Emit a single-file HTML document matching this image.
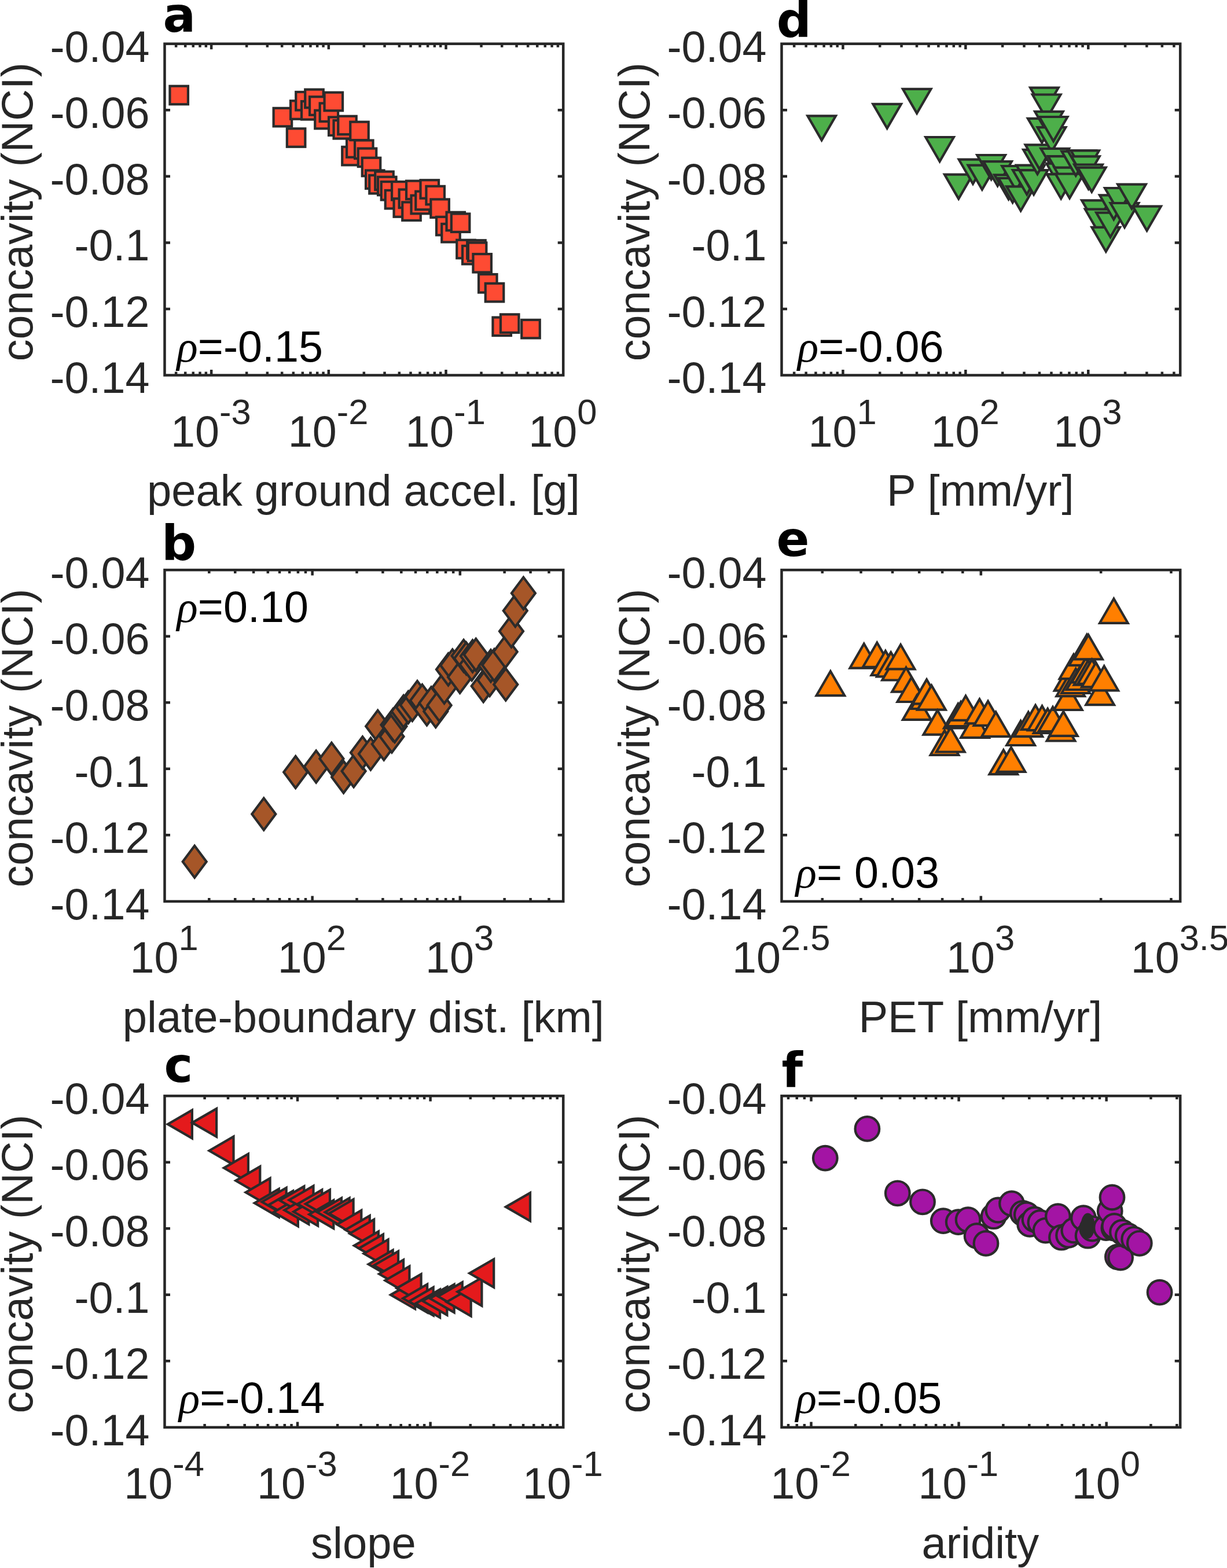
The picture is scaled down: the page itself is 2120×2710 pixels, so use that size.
<!DOCTYPE html>
<html><head><meta charset="utf-8"><title>figure</title>
<style>html,body{margin:0;padding:0;background:#fff;overflow:hidden;}svg{display:block;}text{font-family:"Liberation Sans",Arial,sans-serif;}.tk{font-size:75.5px;fill:#262626;}.sp{font-size:61.5px;}.pl{font-family:"DejaVu Sans",sans-serif;font-weight:bold;font-size:84px;fill:#000;}.rh{font-size:75.5px;fill:#000;}.rs{font-family:"Liberation Serif",serif;font-style:italic;}</style></head><body>
<svg width="2120" height="2710" viewBox="0 0 2120 2710">
<rect width="2120" height="2710" fill="#fff"/>
<g stroke="#2b2b2b" stroke-width="4.2" stroke-linejoin="miter" stroke-miterlimit="10">
<rect x="293.45" y="148.75" width="31.5" height="31.5" fill="#FE4B33"/>
<rect x="472.65" y="186.85" width="31.5" height="31.5" fill="#FE4B33"/>
<rect x="495.85" y="222.25" width="31.5" height="31.5" fill="#FE4B33"/>
<rect x="502.05" y="174.25" width="31.5" height="31.5" fill="#FE4B33"/>
<rect x="511.25" y="158.95" width="31.5" height="31.5" fill="#FE4B33"/>
<rect x="521.05" y="175.05" width="31.5" height="31.5" fill="#FE4B33"/>
<rect x="527.25" y="154.65" width="31.5" height="31.5" fill="#FE4B33"/>
<rect x="535.05" y="167.25" width="31.5" height="31.5" fill="#FE4B33"/>
<rect x="544.25" y="190.75" width="31.5" height="31.5" fill="#FE4B33"/>
<rect x="552.65" y="178.45" width="31.5" height="31.5" fill="#FE4B33"/>
<rect x="560.55" y="159.75" width="31.5" height="31.5" fill="#FE4B33"/>
<rect x="568.05" y="202.45" width="31.5" height="31.5" fill="#FE4B33"/>
<rect x="576.55" y="208.05" width="31.5" height="31.5" fill="#FE4B33"/>
<rect x="584.25" y="200.75" width="31.5" height="31.5" fill="#FE4B33"/>
<rect x="591.25" y="253.85" width="31.5" height="31.5" fill="#FE4B33"/>
<rect x="599.05" y="240.25" width="31.5" height="31.5" fill="#FE4B33"/>
<rect x="605.25" y="210.65" width="31.5" height="31.5" fill="#FE4B33"/>
<rect x="613.05" y="242.55" width="31.5" height="31.5" fill="#FE4B33"/>
<rect x="618.75" y="256.55" width="31.5" height="31.5" fill="#FE4B33"/>
<rect x="625.75" y="272.75" width="31.5" height="31.5" fill="#FE4B33"/>
<rect x="632.05" y="294.45" width="31.5" height="31.5" fill="#FE4B33"/>
<rect x="638.25" y="302.95" width="31.5" height="31.5" fill="#FE4B33"/>
<rect x="648.25" y="296.55" width="31.5" height="31.5" fill="#FE4B33"/>
<rect x="653.05" y="305.75" width="31.5" height="31.5" fill="#FE4B33"/>
<rect x="658.75" y="314.05" width="31.5" height="31.5" fill="#FE4B33"/>
<rect x="665.75" y="328.95" width="31.5" height="31.5" fill="#FE4B33"/>
<rect x="677.05" y="314.05" width="31.5" height="31.5" fill="#FE4B33"/>
<rect x="680.55" y="343.25" width="31.5" height="31.5" fill="#FE4B33"/>
<rect x="689.65" y="327.55" width="31.5" height="31.5" fill="#FE4B33"/>
<rect x="695.25" y="349.45" width="31.5" height="31.5" fill="#FE4B33"/>
<rect x="702.05" y="312.65" width="31.5" height="31.5" fill="#FE4B33"/>
<rect x="710.55" y="337.75" width="31.5" height="31.5" fill="#FE4B33"/>
<rect x="718.25" y="330.75" width="31.5" height="31.5" fill="#FE4B33"/>
<rect x="726.55" y="311.25" width="31.5" height="31.5" fill="#FE4B33"/>
<rect x="736.45" y="321.85" width="31.5" height="31.5" fill="#FE4B33"/>
<rect x="744.35" y="344.45" width="31.5" height="31.5" fill="#FE4B33"/>
<rect x="754.05" y="374.85" width="31.5" height="31.5" fill="#FE4B33"/>
<rect x="763.25" y="386.95" width="31.5" height="31.5" fill="#FE4B33"/>
<rect x="771.55" y="366.75" width="31.5" height="31.5" fill="#FE4B33"/>
<rect x="779.85" y="369.45" width="31.5" height="31.5" fill="#FE4B33"/>
<rect x="789.25" y="414.75" width="31.5" height="31.5" fill="#FE4B33"/>
<rect x="799.05" y="424.95" width="31.5" height="31.5" fill="#FE4B33"/>
<rect x="807.25" y="415.25" width="31.5" height="31.5" fill="#FE4B33"/>
<rect x="808.85" y="419.45" width="31.5" height="31.5" fill="#FE4B33"/>
<rect x="817.45" y="439.05" width="31.5" height="31.5" fill="#FE4B33"/>
<rect x="827.05" y="474.05" width="31.5" height="31.5" fill="#FE4B33"/>
<rect x="838.75" y="489.85" width="31.5" height="31.5" fill="#FE4B33"/>
<rect x="851.45" y="548.55" width="31.5" height="31.5" fill="#FE4B33"/>
<rect x="864.95" y="543.35" width="31.5" height="31.5" fill="#FE4B33"/>
<rect x="901.25" y="552.85" width="31.5" height="31.5" fill="#FE4B33"/>
</g>
<g stroke="#262626" stroke-width="4.5" fill="none">
<rect x="284.5" y="75.7" width="688.7" height="572.8" stroke-linejoin="miter"/>
<path d="M284.5 190.26H294M973.2 190.26H963.7M284.5 304.82H294M973.2 304.82H963.7M284.5 419.38H294M973.2 419.38H963.7M284.5 533.94H294M973.2 533.94H963.7M365.16 648.5V639M365.16 75.7V85.2M567.84 648.5V639M567.84 75.7V85.2M770.52 648.5V639M770.52 75.7V85.2M304.14 648.5V642.5M304.14 75.7V81.7M320.19 648.5V642.5M320.19 75.7V81.7M333.76 648.5V642.5M333.76 75.7V81.7M345.51 648.5V642.5M345.51 75.7V81.7M355.88 648.5V642.5M355.88 75.7V81.7M426.17 648.5V642.5M426.17 75.7V81.7M461.86 648.5V642.5M461.86 75.7V81.7M487.18 648.5V642.5M487.18 75.7V81.7M506.82 648.5V642.5M506.82 75.7V81.7M522.87 648.5V642.5M522.87 75.7V81.7M536.44 648.5V642.5M536.44 75.7V81.7M548.19 648.5V642.5M548.19 75.7V81.7M558.56 648.5V642.5M558.56 75.7V81.7M628.85 648.5V642.5M628.85 75.7V81.7M664.54 648.5V642.5M664.54 75.7V81.7M689.86 648.5V642.5M689.86 75.7V81.7M709.51 648.5V642.5M709.51 75.7V81.7M725.55 648.5V642.5M725.55 75.7V81.7M739.12 648.5V642.5M739.12 75.7V81.7M750.88 648.5V642.5M750.88 75.7V81.7M761.24 648.5V642.5M761.24 75.7V81.7M831.53 648.5V642.5M831.53 75.7V81.7M867.22 648.5V642.5M867.22 75.7V81.7M892.54 648.5V642.5M892.54 75.7V81.7M912.19 648.5V642.5M912.19 75.7V81.7M928.24 648.5V642.5M928.24 75.7V81.7M941.8 648.5V642.5M941.8 75.7V81.7M953.56 648.5V642.5M953.56 75.7V81.7M963.93 648.5V642.5M963.93 75.7V81.7"/>
</g>
<text class="tk" x="258.5" y="106.5" text-anchor="end">-0.04</text>
<text class="tk" x="258.5" y="221.06" text-anchor="end">-0.06</text>
<text class="tk" x="258.5" y="335.62" text-anchor="end">-0.08</text>
<text class="tk" x="258.5" y="450.18" text-anchor="end">-0.1</text>
<text class="tk" x="258.5" y="564.74" text-anchor="end">-0.12</text>
<text class="tk" x="258.5" y="679.3" text-anchor="end">-0.14</text>
<text class="tk" x="364.36" y="771.5" text-anchor="middle">10<tspan class="sp" dy="-38.5">-3</tspan></text>
<text class="tk" x="567.04" y="771.5" text-anchor="middle">10<tspan class="sp" dy="-38.5">-2</tspan></text>
<text class="tk" x="769.72" y="771.5" text-anchor="middle">10<tspan class="sp" dy="-38.5">-1</tspan></text>
<text class="tk" x="972.4" y="771.5" text-anchor="middle">10<tspan class="sp" dy="-38.5">0</tspan></text>
<text class="tk" style="font-size:76.0px" x="627.85" y="874.4" text-anchor="middle">peak ground accel. [g]</text>
<text class="tk" x="0" y="0" text-anchor="middle" transform="translate(56.1 366.2) rotate(-90)">concavity (NCI)</text>
<text class="pl" x="281.6" y="55.2">a</text>
<text class="rh" x="305.6" y="624.5"><tspan class="rs">ρ</tspan>=-0.15</text>
<g stroke="#2b2b2b" stroke-width="4.2" stroke-linejoin="miter" stroke-miterlimit="10">
<path d="M336.2 1461.8 L356.7 1489.3 L336.2 1516.8 L315.7 1489.3Z" fill="#A65628"/>
<path d="M455.8 1379.5 L476.3 1407 L455.8 1434.5 L435.3 1407Z" fill="#A65628"/>
<path d="M510.7 1307.1 L531.2 1334.6 L510.7 1362.1 L490.2 1334.6Z" fill="#A65628"/>
<path d="M546.2 1297.5 L566.7 1325 L546.2 1352.5 L525.7 1325Z" fill="#A65628"/>
<path d="M572.9 1283.8 L593.4 1311.3 L572.9 1338.8 L552.4 1311.3Z" fill="#A65628"/>
<path d="M593.6 1315.5 L614.1 1343 L593.6 1370.5 L573.1 1343Z" fill="#A65628"/>
<path d="M611.1 1305.3 L631.6 1332.8 L611.1 1360.3 L590.6 1332.8Z" fill="#A65628"/>
<path d="M626.4 1273.3 L646.9 1300.8 L626.4 1328.3 L605.9 1300.8Z" fill="#A65628"/>
<path d="M640.4 1275.5 L660.9 1303 L640.4 1330.5 L619.9 1303Z" fill="#A65628"/>
<path d="M652.7 1227.8 L673.2 1255.3 L652.7 1282.8 L632.2 1255.3Z" fill="#A65628"/>
<path d="M663.3 1258.5 L683.8 1286 L663.3 1313.5 L642.8 1286Z" fill="#A65628"/>
<path d="M677 1245.5 L697.5 1273 L677 1300.5 L656.5 1273Z" fill="#A65628"/>
<path d="M679 1225.2 L699.5 1252.7 L679 1280.2 L658.5 1252.7Z" fill="#A65628"/>
<path d="M682 1227.8 L702.5 1255.3 L682 1282.8 L661.5 1255.3Z" fill="#A65628"/>
<path d="M694.5 1206.5 L715 1234 L694.5 1261.5 L674 1234Z" fill="#A65628"/>
<path d="M697.2 1202 L717.7 1229.5 L697.2 1257 L676.7 1229.5Z" fill="#A65628"/>
<path d="M705.4 1195 L725.9 1222.5 L705.4 1250 L684.9 1222.5Z" fill="#A65628"/>
<path d="M712.3 1189.5 L732.8 1217 L712.3 1244.5 L691.8 1217Z" fill="#A65628"/>
<path d="M712.4 1191 L732.9 1218.5 L712.4 1246 L691.9 1218.5Z" fill="#A65628"/>
<path d="M721 1177 L741.5 1204.5 L721 1232 L700.5 1204.5Z" fill="#A65628"/>
<path d="M729.5 1183.2 L750 1210.7 L729.5 1238.2 L709 1210.7Z" fill="#A65628"/>
<path d="M737.5 1198.5 L758 1226 L737.5 1253.5 L717 1226Z" fill="#A65628"/>
<path d="M745 1187.5 L765.5 1215 L745 1242.5 L724.5 1215Z" fill="#A65628"/>
<path d="M752.8 1202 L773.3 1229.5 L752.8 1257 L732.3 1229.5Z" fill="#A65628"/>
<path d="M759.1 1191.6 L779.6 1219.1 L759.1 1246.6 L738.6 1219.1Z" fill="#A65628"/>
<path d="M767.6 1160.8 L788.1 1188.3 L767.6 1215.8 L747.1 1188.3Z" fill="#A65628"/>
<path d="M774.5 1129.5 L795 1157 L774.5 1184.5 L754 1157Z" fill="#A65628"/>
<path d="M781.8 1122.5 L802.3 1150 L781.8 1177.5 L761.3 1150Z" fill="#A65628"/>
<path d="M794.6 1142.8 L815.1 1170.3 L794.6 1197.8 L774.1 1170.3Z" fill="#A65628"/>
<path d="M801.1 1105.9 L821.6 1133.4 L801.1 1160.9 L780.6 1133.4Z" fill="#A65628"/>
<path d="M805.6 1110.5 L826.1 1138 L805.6 1165.5 L785.1 1138Z" fill="#A65628"/>
<path d="M815.2 1120.9 L835.7 1148.4 L815.2 1175.9 L794.7 1148.4Z" fill="#A65628"/>
<path d="M816.5 1106.5 L837 1134 L816.5 1161.5 L796 1134Z" fill="#A65628"/>
<path d="M822.3 1104 L842.8 1131.5 L822.3 1159 L801.8 1131.5Z" fill="#A65628"/>
<path d="M835.2 1158.2 L855.7 1185.7 L835.2 1213.2 L814.7 1185.7Z" fill="#A65628"/>
<path d="M846.1 1148 L866.6 1175.5 L846.1 1203 L825.6 1175.5Z" fill="#A65628"/>
<path d="M848 1123.3 L868.5 1150.8 L848 1178.3 L827.5 1150.8Z" fill="#A65628"/>
<path d="M853.9 1122 L874.4 1149.5 L853.9 1177 L833.4 1149.5Z" fill="#A65628"/>
<path d="M873.2 1099 L893.7 1126.5 L873.2 1154 L852.7 1126.5Z" fill="#A65628"/>
<path d="M873.8 1155.6 L894.3 1183.1 L873.8 1210.6 L853.3 1183.1Z" fill="#A65628"/>
<path d="M883.5 1063.5 L904 1091 L883.5 1118.5 L863 1091Z" fill="#A65628"/>
<path d="M890.3 1028 L910.8 1055.5 L890.3 1083 L869.8 1055.5Z" fill="#A65628"/>
<path d="M904.4 997.7 L924.9 1025.2 L904.4 1052.7 L883.9 1025.2Z" fill="#A65628"/>
</g>
<g stroke="#262626" stroke-width="4.5" fill="none">
<rect x="284.5" y="985.1" width="688.7" height="572.8" stroke-linejoin="miter"/>
<path d="M284.5 1099.66H294M973.2 1099.66H963.7M284.5 1214.22H294M973.2 1214.22H963.7M284.5 1328.78H294M973.2 1328.78H963.7M284.5 1443.34H294M973.2 1443.34H963.7M539.67 1557.9V1548.4M539.67 985.1V994.6M794.84 1557.9V1548.4M794.84 985.1V994.6M361.31 1557.9V1551.9M361.31 985.1V991.1M406.25 1557.9V1551.9M406.25 985.1V991.1M438.13 1557.9V1551.9M438.13 985.1V991.1M462.86 1557.9V1551.9M462.86 985.1V991.1M483.06 1557.9V1551.9M483.06 985.1V991.1M500.14 1557.9V1551.9M500.14 985.1V991.1M514.94 1557.9V1551.9M514.94 985.1V991.1M528 1557.9V1551.9M528 985.1V991.1M616.49 1557.9V1551.9M616.49 985.1V991.1M661.42 1557.9V1551.9M661.42 985.1V991.1M693.3 1557.9V1551.9M693.3 985.1V991.1M718.03 1557.9V1551.9M718.03 985.1V991.1M738.23 1557.9V1551.9M738.23 985.1V991.1M755.32 1557.9V1551.9M755.32 985.1V991.1M770.11 1557.9V1551.9M770.11 985.1V991.1M783.17 1557.9V1551.9M783.17 985.1V991.1M871.66 1557.9V1551.9M871.66 985.1V991.1M916.59 1557.9V1551.9M916.59 985.1V991.1M948.47 1557.9V1551.9M948.47 985.1V991.1"/>
</g>
<text class="tk" x="258.5" y="1015.9" text-anchor="end">-0.04</text>
<text class="tk" x="258.5" y="1130.46" text-anchor="end">-0.06</text>
<text class="tk" x="258.5" y="1245.02" text-anchor="end">-0.08</text>
<text class="tk" x="258.5" y="1359.58" text-anchor="end">-0.1</text>
<text class="tk" x="258.5" y="1474.14" text-anchor="end">-0.12</text>
<text class="tk" x="258.5" y="1588.7" text-anchor="end">-0.14</text>
<text class="tk" x="283.7" y="1680.9" text-anchor="middle">10<tspan class="sp" dy="-38.5">1</tspan></text>
<text class="tk" x="538.87" y="1680.9" text-anchor="middle">10<tspan class="sp" dy="-38.5">2</tspan></text>
<text class="tk" x="794.04" y="1680.9" text-anchor="middle">10<tspan class="sp" dy="-38.5">3</tspan></text>
<text class="tk" style="font-size:76.0px" x="627.85" y="1783.8" text-anchor="middle">plate-boundary dist. [km]</text>
<text class="tk" x="0" y="0" text-anchor="middle" transform="translate(56.1 1275.6) rotate(-90)">concavity (NCI)</text>
<text class="pl" x="279.1" y="967.9">b</text>
<text class="rh" x="305.6" y="1074.5"><tspan class="rs">ρ</tspan>=0.10</text>
<g stroke="#2b2b2b" stroke-width="4.2" stroke-linejoin="miter" stroke-miterlimit="10">
<path d="M289.9 1943 L331.9 1918.7 L331.9 1967.3Z" fill="#E41A1C"/>
<path d="M332.1 1940.4 L374.1 1916.1 L374.1 1964.7Z" fill="#E41A1C"/>
<path d="M361.5 1988.7 L403.5 1964.4 L403.5 2013Z" fill="#E41A1C"/>
<path d="M386.9 2018.6 L428.9 1994.3 L428.9 2042.9Z" fill="#E41A1C"/>
<path d="M407.3 2040.5 L449.3 2016.2 L449.3 2064.8Z" fill="#E41A1C"/>
<path d="M424.6 2060.7 L466.6 2036.4 L466.6 2085Z" fill="#E41A1C"/>
<path d="M439.8 2079.2 L481.8 2054.9 L481.8 2103.5Z" fill="#E41A1C"/>
<path d="M452.7 2077.3 L494.7 2053 L494.7 2101.6Z" fill="#E41A1C"/>
<path d="M464.1 2082.6 L506.1 2058.3 L506.1 2106.9Z" fill="#E41A1C"/>
<path d="M472.9 2095 L514.9 2070.7 L514.9 2119.3Z" fill="#E41A1C"/>
<path d="M483.4 2074.7 L525.4 2050.4 L525.4 2099Z" fill="#E41A1C"/>
<path d="M491.4 2091.5 L533.4 2067.2 L533.4 2115.8Z" fill="#E41A1C"/>
<path d="M499.5 2074 L541.5 2049.7 L541.5 2098.3Z" fill="#E41A1C"/>
<path d="M507.2 2094.2 L549.2 2069.9 L549.2 2118.5Z" fill="#E41A1C"/>
<path d="M514.3 2080.7 L556.3 2056.4 L556.3 2105Z" fill="#E41A1C"/>
<path d="M528 2080.7 L570 2056.4 L570 2105Z" fill="#E41A1C"/>
<path d="M534.3 2098.7 L576.3 2074.4 L576.3 2123Z" fill="#E41A1C"/>
<path d="M548 2095 L590 2070.7 L590 2119.3Z" fill="#E41A1C"/>
<path d="M561.7 2095 L603.7 2070.7 L603.7 2119.3Z" fill="#E41A1C"/>
<path d="M568.6 2097.3 L610.6 2073 L610.6 2121.6Z" fill="#E41A1C"/>
<path d="M582.3 2116.3 L624.3 2092 L624.3 2140.6Z" fill="#E41A1C"/>
<path d="M596.8 2125.5 L638.8 2101.2 L638.8 2149.8Z" fill="#E41A1C"/>
<path d="M604.2 2132 L646.2 2107.7 L646.2 2156.3Z" fill="#E41A1C"/>
<path d="M611.9 2152.7 L653.9 2128.4 L653.9 2177Z" fill="#E41A1C"/>
<path d="M620 2157.6 L662 2133.3 L662 2181.9Z" fill="#E41A1C"/>
<path d="M628.6 2166.6 L670.6 2142.3 L670.6 2190.9Z" fill="#E41A1C"/>
<path d="M636.7 2185 L678.7 2160.7 L678.7 2209.3Z" fill="#E41A1C"/>
<path d="M646.1 2187 L688.1 2162.7 L688.1 2211.3Z" fill="#E41A1C"/>
<path d="M655.1 2201.7 L697.1 2177.4 L697.1 2226Z" fill="#E41A1C"/>
<path d="M665.4 2213 L707.4 2188.7 L707.4 2237.3Z" fill="#E41A1C"/>
<path d="M675.1 2237.9 L717.1 2213.6 L717.1 2262.2Z" fill="#E41A1C"/>
<path d="M685.6 2226.4 L727.6 2202.1 L727.6 2250.7Z" fill="#E41A1C"/>
<path d="M696.2 2244 L738.2 2219.7 L738.2 2268.3Z" fill="#E41A1C"/>
<path d="M706.7 2249.3 L748.7 2225 L748.7 2273.6Z" fill="#E41A1C"/>
<path d="M718.1 2252.9 L760.1 2228.6 L760.1 2277.2Z" fill="#E41A1C"/>
<path d="M730.4 2248.5 L772.4 2224.2 L772.4 2272.8Z" fill="#E41A1C"/>
<path d="M742.7 2244.1 L784.7 2219.8 L784.7 2268.4Z" fill="#E41A1C"/>
<path d="M756.8 2240.5 L798.8 2216.2 L798.8 2264.8Z" fill="#E41A1C"/>
<path d="M771.7 2250.2 L813.7 2225.9 L813.7 2274.5Z" fill="#E41A1C"/>
<path d="M790.4 2232.6 L832.4 2208.3 L832.4 2256.9Z" fill="#E41A1C"/>
<path d="M811.2 2200.6 L853.2 2176.3 L853.2 2224.9Z" fill="#E41A1C"/>
<path d="M874 2085.9 L916 2061.6 L916 2110.2Z" fill="#E41A1C"/>
</g>
<g stroke="#262626" stroke-width="4.5" fill="none">
<rect x="284.5" y="1894.1" width="688.7" height="572.8" stroke-linejoin="miter"/>
<path d="M284.5 2008.66H294M973.2 2008.66H963.7M284.5 2123.22H294M973.2 2123.22H963.7M284.5 2237.78H294M973.2 2237.78H963.7M284.5 2352.34H294M973.2 2352.34H963.7M514.07 2466.9V2457.4M514.07 1894.1V1903.6M743.63 2466.9V2457.4M743.63 1894.1V1903.6M353.61 2466.9V2460.9M353.61 1894.1V1900.1M394.03 2466.9V2460.9M394.03 1894.1V1900.1M422.71 2466.9V2460.9M422.71 1894.1V1900.1M444.96 2466.9V2460.9M444.96 1894.1V1900.1M463.14 2466.9V2460.9M463.14 1894.1V1900.1M478.51 2466.9V2460.9M478.51 1894.1V1900.1M491.82 2466.9V2460.9M491.82 1894.1V1900.1M503.56 2466.9V2460.9M503.56 1894.1V1900.1M583.17 2466.9V2460.9M583.17 1894.1V1900.1M623.6 2466.9V2460.9M623.6 1894.1V1900.1M652.28 2466.9V2460.9M652.28 1894.1V1900.1M674.53 2466.9V2460.9M674.53 1894.1V1900.1M692.7 2466.9V2460.9M692.7 1894.1V1900.1M708.07 2466.9V2460.9M708.07 1894.1V1900.1M721.39 2466.9V2460.9M721.39 1894.1V1900.1M733.13 2466.9V2460.9M733.13 1894.1V1900.1M812.74 2466.9V2460.9M812.74 1894.1V1900.1M853.16 2466.9V2460.9M853.16 1894.1V1900.1M881.85 2466.9V2460.9M881.85 1894.1V1900.1M904.09 2466.9V2460.9M904.09 1894.1V1900.1M922.27 2466.9V2460.9M922.27 1894.1V1900.1M937.64 2466.9V2460.9M937.64 1894.1V1900.1M950.95 2466.9V2460.9M950.95 1894.1V1900.1M962.7 2466.9V2460.9M962.7 1894.1V1900.1"/>
</g>
<text class="tk" x="258.5" y="1924.9" text-anchor="end">-0.04</text>
<text class="tk" x="258.5" y="2039.46" text-anchor="end">-0.06</text>
<text class="tk" x="258.5" y="2154.02" text-anchor="end">-0.08</text>
<text class="tk" x="258.5" y="2268.58" text-anchor="end">-0.1</text>
<text class="tk" x="258.5" y="2383.14" text-anchor="end">-0.12</text>
<text class="tk" x="258.5" y="2497.7" text-anchor="end">-0.14</text>
<text class="tk" x="283.7" y="2589.9" text-anchor="middle">10<tspan class="sp" dy="-38.5">-4</tspan></text>
<text class="tk" x="513.27" y="2589.9" text-anchor="middle">10<tspan class="sp" dy="-38.5">-3</tspan></text>
<text class="tk" x="742.83" y="2589.9" text-anchor="middle">10<tspan class="sp" dy="-38.5">-2</tspan></text>
<text class="tk" x="972.4" y="2589.9" text-anchor="middle">10<tspan class="sp" dy="-38.5">-1</tspan></text>
<text class="tk" style="font-size:76.0px" x="627.85" y="2692.8" text-anchor="middle">slope</text>
<text class="tk" x="0" y="0" text-anchor="middle" transform="translate(56.1 2184.6) rotate(-90)">concavity (NCI)</text>
<text class="pl" x="283.6" y="1870.2">c</text>
<text class="rh" x="308.9" y="2442"><tspan class="rs">ρ</tspan>=-0.14</text>
<g stroke="#2b2b2b" stroke-width="4.2" stroke-linejoin="miter" stroke-miterlimit="10">
<path d="M1419.7 242.4 L1395.4 200.4 L1444 200.4Z" fill="#4DAF4A"/>
<path d="M1532.7 221.8 L1508.4 179.8 L1557 179.8Z" fill="#4DAF4A"/>
<path d="M1584.2 195.9 L1559.9 153.9 L1608.5 153.9Z" fill="#4DAF4A"/>
<path d="M1623.6 279 L1599.3 237 L1647.9 237Z" fill="#4DAF4A"/>
<path d="M1656.3 343.6 L1632 301.6 L1680.6 301.6Z" fill="#4DAF4A"/>
<path d="M1681 317.7 L1656.7 275.7 L1705.3 275.7Z" fill="#4DAF4A"/>
<path d="M1696.9 327.6 L1672.6 285.6 L1721.2 285.6Z" fill="#4DAF4A"/>
<path d="M1712.6 310 L1688.3 268 L1736.9 268Z" fill="#4DAF4A"/>
<path d="M1723.6 321.2 L1699.3 279.2 L1747.9 279.2Z" fill="#4DAF4A"/>
<path d="M1742.6 344.4 L1718.3 302.4 L1766.9 302.4Z" fill="#4DAF4A"/>
<path d="M1749.6 350 L1725.3 308 L1773.9 308Z" fill="#4DAF4A"/>
<path d="M1755.6 329 L1731.3 287 L1779.9 287Z" fill="#4DAF4A"/>
<path d="M1763.6 364.3 L1739.3 322.3 L1787.9 322.3Z" fill="#4DAF4A"/>
<path d="M1774.2 336 L1749.9 294 L1798.5 294Z" fill="#4DAF4A"/>
<path d="M1780.5 327.6 L1756.2 285.6 L1804.8 285.6Z" fill="#4DAF4A"/>
<path d="M1786.1 336.2 L1761.8 294.2 L1810.4 294.2Z" fill="#4DAF4A"/>
<path d="M1792.5 300.9 L1768.2 258.9 L1816.8 258.9Z" fill="#4DAF4A"/>
<path d="M1796 292.4 L1771.7 250.4 L1820.3 250.4Z" fill="#4DAF4A"/>
<path d="M1800.2 246.8 L1775.9 204.8 L1824.5 204.8Z" fill="#4DAF4A"/>
<path d="M1804.4 193.6 L1780.1 151.6 L1828.7 151.6Z" fill="#4DAF4A"/>
<path d="M1808.2 205.5 L1783.9 163.5 L1832.5 163.5Z" fill="#4DAF4A"/>
<path d="M1812.4 234.8 L1788.1 192.8 L1836.7 192.8Z" fill="#4DAF4A"/>
<path d="M1817 262.2 L1792.7 220.2 L1841.3 220.2Z" fill="#4DAF4A"/>
<path d="M1820.1 244 L1795.8 202 L1844.4 202Z" fill="#4DAF4A"/>
<path d="M1822.7 298.8 L1798.4 256.8 L1847 256.8Z" fill="#4DAF4A"/>
<path d="M1832.5 324.7 L1808.2 282.7 L1856.8 282.7Z" fill="#4DAF4A"/>
<path d="M1833.2 343.2 L1808.9 301.2 L1857.5 301.2Z" fill="#4DAF4A"/>
<path d="M1835.3 312.1 L1811 270.1 L1859.6 270.1Z" fill="#4DAF4A"/>
<path d="M1846 331.7 L1821.7 289.7 L1870.3 289.7Z" fill="#4DAF4A"/>
<path d="M1848 342.5 L1823.7 300.5 L1872.3 300.5Z" fill="#4DAF4A"/>
<path d="M1858.8 303.6 L1834.5 261.6 L1883.1 261.6Z" fill="#4DAF4A"/>
<path d="M1868.9 302 L1844.6 260 L1893.2 260Z" fill="#4DAF4A"/>
<path d="M1874.6 302.3 L1850.3 260.3 L1898.9 260.3Z" fill="#4DAF4A"/>
<path d="M1875.4 312.3 L1851.1 270.3 L1899.7 270.3Z" fill="#4DAF4A"/>
<path d="M1880.5 326.5 L1856.2 284.5 L1904.8 284.5Z" fill="#4DAF4A"/>
<path d="M1886.3 331.6 L1862 289.6 L1910.6 289.6Z" fill="#4DAF4A"/>
<path d="M1893.4 388.3 L1869.1 346.3 L1917.7 346.3Z" fill="#4DAF4A"/>
<path d="M1899.2 403.7 L1874.9 361.7 L1923.5 361.7Z" fill="#4DAF4A"/>
<path d="M1910.8 434.8 L1886.5 392.8 L1935.1 392.8Z" fill="#4DAF4A"/>
<path d="M1918.5 409.7 L1894.2 367.7 L1942.8 367.7Z" fill="#4DAF4A"/>
<path d="M1924.3 379.3 L1900 337.3 L1948.6 337.3Z" fill="#4DAF4A"/>
<path d="M1933.3 367 L1909 325 L1957.6 325Z" fill="#4DAF4A"/>
<path d="M1943 393 L1918.7 351 L1967.3 351Z" fill="#4DAF4A"/>
<path d="M1955.5 360.6 L1931.2 318.6 L1979.8 318.6Z" fill="#4DAF4A"/>
<path d="M1981.6 398.6 L1957.3 356.6 L2005.9 356.6Z" fill="#4DAF4A"/>
</g>
<g stroke="#262626" stroke-width="4.5" fill="none">
<rect x="1350.5" y="75.7" width="688.7" height="572.8" stroke-linejoin="miter"/>
<path d="M1350.5 190.26H1360M2039.2 190.26H2029.7M1350.5 304.82H1360M2039.2 304.82H2029.7M1350.5 419.38H1360M2039.2 419.38H2029.7M1350.5 533.94H1360M2039.2 533.94H2029.7M1456.45 648.5V639M1456.45 75.7V85.2M1668.36 648.5V639M1668.36 75.7V85.2M1880.27 648.5V639M1880.27 75.7V85.2M1372.13 648.5V642.5M1372.13 75.7V81.7M1392.66 648.5V642.5M1392.66 75.7V81.7M1409.44 648.5V642.5M1409.44 75.7V81.7M1423.63 648.5V642.5M1423.63 75.7V81.7M1435.92 648.5V642.5M1435.92 75.7V81.7M1446.76 648.5V642.5M1446.76 75.7V81.7M1520.24 648.5V642.5M1520.24 75.7V81.7M1557.56 648.5V642.5M1557.56 75.7V81.7M1584.03 648.5V642.5M1584.03 75.7V81.7M1604.57 648.5V642.5M1604.57 75.7V81.7M1621.35 648.5V642.5M1621.35 75.7V81.7M1635.54 648.5V642.5M1635.54 75.7V81.7M1647.83 648.5V642.5M1647.83 75.7V81.7M1658.67 648.5V642.5M1658.67 75.7V81.7M1732.15 648.5V642.5M1732.15 75.7V81.7M1769.47 648.5V642.5M1769.47 75.7V81.7M1795.94 648.5V642.5M1795.94 75.7V81.7M1816.48 648.5V642.5M1816.48 75.7V81.7M1833.26 648.5V642.5M1833.26 75.7V81.7M1847.44 648.5V642.5M1847.44 75.7V81.7M1859.73 648.5V642.5M1859.73 75.7V81.7M1870.57 648.5V642.5M1870.57 75.7V81.7M1944.06 648.5V642.5M1944.06 75.7V81.7M1981.37 648.5V642.5M1981.37 75.7V81.7M2007.85 648.5V642.5M2007.85 75.7V81.7M2028.39 648.5V642.5M2028.39 75.7V81.7"/>
</g>
<text class="tk" x="1324.5" y="106.5" text-anchor="end">-0.04</text>
<text class="tk" x="1324.5" y="221.06" text-anchor="end">-0.06</text>
<text class="tk" x="1324.5" y="335.62" text-anchor="end">-0.08</text>
<text class="tk" x="1324.5" y="450.18" text-anchor="end">-0.1</text>
<text class="tk" x="1324.5" y="564.74" text-anchor="end">-0.12</text>
<text class="tk" x="1324.5" y="679.3" text-anchor="end">-0.14</text>
<text class="tk" x="1455.65" y="771.5" text-anchor="middle">10<tspan class="sp" dy="-38.5">1</tspan></text>
<text class="tk" x="1667.56" y="771.5" text-anchor="middle">10<tspan class="sp" dy="-38.5">2</tspan></text>
<text class="tk" x="1879.47" y="771.5" text-anchor="middle">10<tspan class="sp" dy="-38.5">3</tspan></text>
<text class="tk" style="font-size:76.0px" x="1693.85" y="874.4" text-anchor="middle">P [mm/yr]</text>
<text class="tk" x="0" y="0" text-anchor="middle" transform="translate(1122.1 366.2) rotate(-90)">concavity (NCI)</text>
<text class="pl" x="1341.8" y="63.8">d</text>
<text class="rh" x="1378" y="624.5"><tspan class="rs">ρ</tspan>=-0.06</text>
<g stroke="#2b2b2b" stroke-width="4.2" stroke-linejoin="miter" stroke-miterlimit="10">
<path d="M1434.9 1160.2 L1410.6 1202.2 L1459.2 1202.2Z" fill="#FF7F00"/>
<path d="M1492.8 1112.6 L1468.5 1154.6 L1517.1 1154.6Z" fill="#FF7F00"/>
<path d="M1515.3 1110.8 L1491 1152.8 L1539.6 1152.8Z" fill="#FF7F00"/>
<path d="M1529.9 1125 L1505.6 1167 L1554.2 1167Z" fill="#FF7F00"/>
<path d="M1539.3 1127.4 L1515 1169.4 L1563.6 1169.4Z" fill="#FF7F00"/>
<path d="M1548.6 1133.5 L1524.3 1175.5 L1572.9 1175.5Z" fill="#FF7F00"/>
<path d="M1556.1 1114.3 L1531.8 1156.3 L1580.4 1156.3Z" fill="#FF7F00"/>
<path d="M1565.5 1153.7 L1541.2 1195.7 L1589.8 1195.7Z" fill="#FF7F00"/>
<path d="M1574.8 1171 L1550.5 1213 L1599.1 1213Z" fill="#FF7F00"/>
<path d="M1584.2 1201.9 L1559.9 1243.9 L1608.5 1243.9Z" fill="#FF7F00"/>
<path d="M1598.3 1183 L1574 1225 L1622.6 1225Z" fill="#FF7F00"/>
<path d="M1601.1 1174.4 L1576.8 1216.4 L1625.4 1216.4Z" fill="#FF7F00"/>
<path d="M1609.5 1184.6 L1585.2 1226.6 L1633.8 1226.6Z" fill="#FF7F00"/>
<path d="M1619.8 1227.7 L1595.5 1269.7 L1644.1 1269.7Z" fill="#FF7F00"/>
<path d="M1632 1262.8 L1607.7 1304.8 L1656.3 1304.8Z" fill="#FF7F00"/>
<path d="M1642.3 1257.5 L1618 1299.5 L1666.6 1299.5Z" fill="#FF7F00"/>
<path d="M1655.4 1216.4 L1631.1 1258.4 L1679.7 1258.4Z" fill="#FF7F00"/>
<path d="M1660.1 1213.1 L1635.8 1255.1 L1684.4 1255.1Z" fill="#FF7F00"/>
<path d="M1668.5 1202.8 L1644.2 1244.8 L1692.8 1244.8Z" fill="#FF7F00"/>
<path d="M1684.5 1232.8 L1660.2 1274.8 L1708.8 1274.8Z" fill="#FF7F00"/>
<path d="M1692.5 1208.4 L1668.2 1250.4 L1716.8 1250.4Z" fill="#FF7F00"/>
<path d="M1707.1 1211.9 L1682.8 1253.9 L1731.4 1253.9Z" fill="#FF7F00"/>
<path d="M1720.6 1230.8 L1696.3 1272.8 L1744.9 1272.8Z" fill="#FF7F00"/>
<path d="M1733.8 1296.2 L1709.5 1338.2 L1758.1 1338.2Z" fill="#FF7F00"/>
<path d="M1747 1291.8 L1722.7 1333.8 L1771.3 1333.8Z" fill="#FF7F00"/>
<path d="M1763.6 1246 L1739.3 1288 L1787.9 1288Z" fill="#FF7F00"/>
<path d="M1776.8 1230.8 L1752.5 1272.8 L1801.1 1272.8Z" fill="#FF7F00"/>
<path d="M1789.1 1218.9 L1764.8 1260.9 L1813.4 1260.9Z" fill="#FF7F00"/>
<path d="M1800.5 1220.2 L1776.2 1262.2 L1824.8 1262.2Z" fill="#FF7F00"/>
<path d="M1810.2 1224.9 L1785.9 1266.9 L1834.5 1266.9Z" fill="#FF7F00"/>
<path d="M1819 1222 L1794.7 1264 L1843.3 1264Z" fill="#FF7F00"/>
<path d="M1833 1238.5 L1808.7 1280.5 L1857.3 1280.5Z" fill="#FF7F00"/>
<path d="M1837.4 1229.9 L1813.1 1271.9 L1861.7 1271.9Z" fill="#FF7F00"/>
<path d="M1845.3 1185 L1821 1227 L1869.6 1227Z" fill="#FF7F00"/>
<path d="M1846.2 1151.6 L1821.9 1193.6 L1870.5 1193.6Z" fill="#FF7F00"/>
<path d="M1849.7 1161.2 L1825.4 1203.2 L1874 1203.2Z" fill="#FF7F00"/>
<path d="M1855 1131.1 L1830.7 1173.1 L1879.3 1173.1Z" fill="#FF7F00"/>
<path d="M1858.7 1156 L1834.4 1198 L1883 1198Z" fill="#FF7F00"/>
<path d="M1867.1 1150 L1842.8 1192 L1891.4 1192Z" fill="#FF7F00"/>
<path d="M1871.6 1107.8 L1847.3 1149.8 L1895.9 1149.8Z" fill="#FF7F00"/>
<path d="M1875.9 1137.4 L1851.6 1179.4 L1900.2 1179.4Z" fill="#FF7F00"/>
<path d="M1877.8 1097 L1853.5 1139 L1902.1 1139Z" fill="#FF7F00"/>
<path d="M1880.1 1141.6 L1855.8 1183.6 L1904.4 1183.6Z" fill="#FF7F00"/>
<path d="M1880.5 1097.3 L1856.2 1139.3 L1904.8 1139.3Z" fill="#FF7F00"/>
<path d="M1886.6 1139.9 L1862.3 1181.9 L1910.9 1181.9Z" fill="#FF7F00"/>
<path d="M1893.4 1145.3 L1869.1 1187.3 L1917.7 1187.3Z" fill="#FF7F00"/>
<path d="M1900.6 1176.2 L1876.3 1218.2 L1924.9 1218.2Z" fill="#FF7F00"/>
<path d="M1907.7 1151.3 L1883.4 1193.3 L1932 1193.3Z" fill="#FF7F00"/>
<path d="M1924.4 1034.8 L1900.1 1076.8 L1948.7 1076.8Z" fill="#FF7F00"/>
</g>
<g stroke="#262626" stroke-width="4.5" fill="none">
<rect x="1350.5" y="985.1" width="688.7" height="572.8" stroke-linejoin="miter"/>
<path d="M1350.5 1099.66H1360M2039.2 1099.66H2029.7M1350.5 1214.22H1360M2039.2 1214.22H2029.7M1350.5 1328.78H1360M2039.2 1328.78H2029.7M1350.5 1443.34H1360M2039.2 1443.34H2029.7M1694.85 1557.9V1548.4M1694.85 985.1V994.6M1420.79 1557.9V1551.9M1420.79 985.1V991.1M1487.53 1557.9V1551.9M1487.53 985.1V991.1M1542.06 1557.9V1551.9M1542.06 985.1V991.1M1588.17 1557.9V1551.9M1588.17 985.1V991.1M1628.11 1557.9V1551.9M1628.11 985.1V991.1M1663.34 1557.9V1551.9M1663.34 985.1V991.1M1902.17 1557.9V1551.9M1902.17 985.1V991.1M2023.44 1557.9V1551.9M2023.44 985.1V991.1"/>
</g>
<text class="tk" x="1324.5" y="1015.9" text-anchor="end">-0.04</text>
<text class="tk" x="1324.5" y="1130.46" text-anchor="end">-0.06</text>
<text class="tk" x="1324.5" y="1245.02" text-anchor="end">-0.08</text>
<text class="tk" x="1324.5" y="1359.58" text-anchor="end">-0.1</text>
<text class="tk" x="1324.5" y="1474.14" text-anchor="end">-0.12</text>
<text class="tk" x="1324.5" y="1588.7" text-anchor="end">-0.14</text>
<text class="tk" x="1349.7" y="1680.9" text-anchor="middle">10<tspan class="sp" dy="-38.5">2.5</tspan></text>
<text class="tk" x="1694.05" y="1680.9" text-anchor="middle">10<tspan class="sp" dy="-38.5">3</tspan></text>
<text class="tk" x="2038.4" y="1680.9" text-anchor="middle">10<tspan class="sp" dy="-38.5">3.5</tspan></text>
<text class="tk" style="font-size:76.0px" x="1693.85" y="1783.8" text-anchor="middle">PET [mm/yr]</text>
<text class="tk" x="0" y="0" text-anchor="middle" transform="translate(1122.1 1275.6) rotate(-90)">concavity (NCI)</text>
<text class="pl" x="1341.5" y="960.7">e</text>
<text class="rh" x="1374.7" y="1533.5"><tspan class="rs">ρ</tspan>= 0.03</text>
<g stroke="#2b2b2b" stroke-width="4.2" stroke-linejoin="miter" stroke-miterlimit="10">
<circle cx="1425.8" cy="2001.6" r="20.8" fill="#A314A4"/>
<circle cx="1498.4" cy="1950.9" r="20.8" fill="#A314A4"/>
<circle cx="1550.8" cy="2062.3" r="20.8" fill="#A314A4"/>
<circle cx="1594" cy="2077.3" r="20.8" fill="#A314A4"/>
<circle cx="1629.8" cy="2110.1" r="20.8" fill="#A314A4"/>
<circle cx="1655.7" cy="2112.1" r="20.8" fill="#A314A4"/>
<circle cx="1672.6" cy="2108.1" r="20.8" fill="#A314A4"/>
<circle cx="1687.6" cy="2136" r="20.8" fill="#A314A4"/>
<circle cx="1703.5" cy="2148.9" r="20.8" fill="#A314A4"/>
<circle cx="1716.7" cy="2102.2" r="20.8" fill="#A314A4"/>
<circle cx="1724.4" cy="2091.5" r="20.8" fill="#A314A4"/>
<circle cx="1748" cy="2080.1" r="20.8" fill="#A314A4"/>
<circle cx="1767" cy="2096.9" r="20.8" fill="#A314A4"/>
<circle cx="1773.8" cy="2099.2" r="20.8" fill="#A314A4"/>
<circle cx="1779.2" cy="2115.9" r="20.8" fill="#A314A4"/>
<circle cx="1787.5" cy="2107.5" r="20.8" fill="#A314A4"/>
<circle cx="1797.4" cy="2112.9" r="20.8" fill="#A314A4"/>
<circle cx="1806.6" cy="2126.6" r="20.8" fill="#A314A4"/>
<circle cx="1827.9" cy="2102.2" r="20.8" fill="#A314A4"/>
<circle cx="1834" cy="2138.7" r="20.8" fill="#A314A4"/>
<circle cx="1846.1" cy="2134.9" r="20.8" fill="#A314A4"/>
<circle cx="1855.3" cy="2126.6" r="20.8" fill="#A314A4"/>
<circle cx="1872" cy="2105.2" r="20.8" fill="#A314A4"/>
<circle cx="1879.6" cy="2135.7" r="20.8" fill="#A314A4"/>
<circle cx="1887.2" cy="2123.5" r="20.8" fill="#A314A4"/>
<ellipse cx="1879.5" cy="2118.6" rx="10" ry="20" fill="#2b2b2b"/>
<circle cx="1911" cy="2122" r="20.8" fill="#A314A4"/>
<circle cx="1917.7" cy="2093" r="20.8" fill="#A314A4"/>
<circle cx="1921.5" cy="2069.5" r="20.8" fill="#A314A4"/>
<circle cx="1924.4" cy="2122.6" r="20.8" fill="#A314A4"/>
<circle cx="1925.3" cy="2119" r="20.8" fill="#A314A4"/>
<circle cx="1930.9" cy="2172.3" r="20.8" fill="#A314A4"/>
<circle cx="1936.1" cy="2173.6" r="20.8" fill="#A314A4"/>
<circle cx="1939" cy="2129.6" r="20.8" fill="#A314A4"/>
<circle cx="1948.7" cy="2135.7" r="20.8" fill="#A314A4"/>
<circle cx="1959.2" cy="2141.8" r="20.8" fill="#A314A4"/>
<circle cx="1968.8" cy="2148.8" r="20.8" fill="#A314A4"/>
<circle cx="2003.6" cy="2233.6" r="20.8" fill="#A314A4"/>
</g>
<g stroke="#262626" stroke-width="4.5" fill="none">
<rect x="1350.5" y="1894.1" width="688.7" height="572.8" stroke-linejoin="miter"/>
<path d="M1350.5 2008.66H1360M2039.2 2008.66H2029.7M1350.5 2123.22H1360M2039.2 2123.22H2029.7M1350.5 2237.78H1360M2039.2 2237.78H2029.7M1350.5 2352.34H1360M2039.2 2352.34H2029.7M1401.51 2466.9V2457.4M1401.51 1894.1V1903.6M1656.59 2466.9V2457.4M1656.59 1894.1V1903.6M1911.66 2466.9V2457.4M1911.66 1894.1V1903.6M1362 2466.9V2460.9M1362 1894.1V1900.1M1376.8 2466.9V2460.9M1376.8 1894.1V1900.1M1389.84 2466.9V2460.9M1389.84 1894.1V1900.1M1478.3 2466.9V2460.9M1478.3 1894.1V1900.1M1523.22 2466.9V2460.9M1523.22 1894.1V1900.1M1555.08 2466.9V2460.9M1555.08 1894.1V1900.1M1579.8 2466.9V2460.9M1579.8 1894.1V1900.1M1600 2466.9V2460.9M1600 1894.1V1900.1M1617.08 2466.9V2460.9M1617.08 1894.1V1900.1M1631.87 2466.9V2460.9M1631.87 1894.1V1900.1M1644.92 2466.9V2460.9M1644.92 1894.1V1900.1M1733.37 2466.9V2460.9M1733.37 1894.1V1900.1M1778.29 2466.9V2460.9M1778.29 1894.1V1900.1M1810.16 2466.9V2460.9M1810.16 1894.1V1900.1M1834.88 2466.9V2460.9M1834.88 1894.1V1900.1M1855.08 2466.9V2460.9M1855.08 1894.1V1900.1M1872.15 2466.9V2460.9M1872.15 1894.1V1900.1M1886.94 2466.9V2460.9M1886.94 1894.1V1900.1M1899.99 2466.9V2460.9M1899.99 1894.1V1900.1M1988.45 2466.9V2460.9M1988.45 1894.1V1900.1M2033.36 2466.9V2460.9M2033.36 1894.1V1900.1"/>
</g>
<text class="tk" x="1324.5" y="1924.9" text-anchor="end">-0.04</text>
<text class="tk" x="1324.5" y="2039.46" text-anchor="end">-0.06</text>
<text class="tk" x="1324.5" y="2154.02" text-anchor="end">-0.08</text>
<text class="tk" x="1324.5" y="2268.58" text-anchor="end">-0.1</text>
<text class="tk" x="1324.5" y="2383.14" text-anchor="end">-0.12</text>
<text class="tk" x="1324.5" y="2497.7" text-anchor="end">-0.14</text>
<text class="tk" x="1400.71" y="2589.9" text-anchor="middle">10<tspan class="sp" dy="-38.5">-2</tspan></text>
<text class="tk" x="1655.79" y="2589.9" text-anchor="middle">10<tspan class="sp" dy="-38.5">-1</tspan></text>
<text class="tk" x="1910.86" y="2589.9" text-anchor="middle">10<tspan class="sp" dy="-38.5">0</tspan></text>
<text class="tk" style="font-size:76.0px" x="1693.85" y="2692.8" text-anchor="middle">aridity</text>
<text class="tk" x="0" y="0" text-anchor="middle" transform="translate(1122.1 2184.6) rotate(-90)">concavity (NCI)</text>
<text class="pl" x="1350.5" y="1879.3">f</text>
<text class="rh" x="1374.7" y="2442"><tspan class="rs">ρ</tspan>=-0.05</text>
</svg></body></html>
